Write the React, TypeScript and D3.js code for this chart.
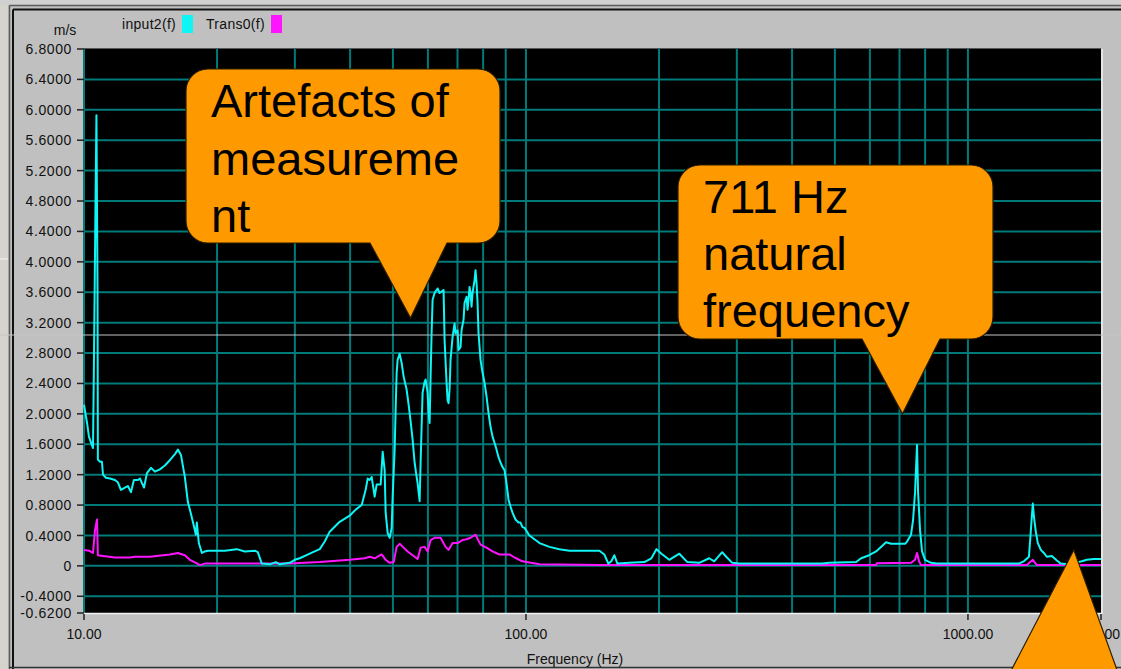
import React from "react";
import * as d3 from "d3";

const WIDTH = 1121;
const HEIGHT = 669;

// Amplitude spectra, [frequency in Hz, velocity in m/s]
const input2: [number, number][] = [
  [10.0, 2.12], [10.16, 1.88], [10.26, 1.7], [10.48, 1.55], [10.53, 2.64], [10.62, 4.82], [10.67, 5.93],
  [10.73, 3.63], [10.75, 1.4], [10.87, 1.37], [10.98, 1.37], [11.04, 1.2], [11.21, 1.16], [11.45, 1.15],
  [11.75, 1.13], [11.93, 1.1], [12.12, 1.0], [12.38, 1.03], [12.57, 1.05], [12.77, 0.97], [12.97, 1.13],
  [13.25, 1.13], [13.38, 1.15], [13.67, 1.03], [13.88, 1.22], [14.17, 1.29], [14.47, 1.24], [14.85, 1.27],
  [15.24, 1.32], [15.64, 1.39], [16.06, 1.47], [16.31, 1.53], [16.57, 1.46], [16.91, 1.17], [17.18, 0.84],
  [17.45, 0.69], [17.73, 0.52], [17.91, 0.41], [18.0, 0.57], [18.19, 0.3], [18.48, 0.17], [18.77, 0.19],
  [19.07, 0.2], [19.77, 0.2], [20.83, 0.2], [22.17, 0.22], [23.11, 0.19], [24.34, 0.2], [24.73, 0.18],
  [25.25, 0.03], [26.32, 0.02], [27.16, 0.05], [27.73, 0.02], [29.21, 0.04], [29.98, 0.08], [30.77, 0.1],
  [32.41, 0.16], [34.15, 0.22], [35.05, 0.32], [35.97, 0.45], [37.89, 0.58], [39.91, 0.66], [41.18, 0.74],
  [42.49, 0.8], [43.38, 1.0], [43.84, 1.15], [44.29, 1.13], [44.76, 1.17], [45.46, 0.91], [45.94, 1.07],
  [46.91, 1.07], [47.4, 1.5], [47.89, 1.26], [48.14, 0.7], [48.65, 0.43], [49.16, 0.37], [49.67, 0.5],
  [49.93, 0.91], [50.45, 1.53], [50.71, 2.05], [50.98, 2.54], [51.24, 2.71], [51.78, 2.79], [52.32, 2.67],
  [52.87, 2.49], [53.7, 2.32], [54.26, 2.12], [54.83, 1.9], [55.4, 1.66], [55.98, 1.36], [56.57, 1.17],
  [56.86, 1.09], [57.46, 0.85], [57.76, 1.36], [58.06, 1.83], [58.36, 2.28], [58.97, 2.42], [59.28, 2.45],
  [59.9, 2.28], [60.21, 2.01], [60.53, 1.88], [60.84, 2.49], [61.16, 3.06], [61.48, 3.5], [62.12, 3.59],
  [62.77, 3.63], [63.1, 3.65], [63.76, 3.59], [64.42, 3.61], [65.1, 3.63], [65.44, 2.97], [66.12, 2.41],
  [66.47, 2.18], [66.81, 2.14], [67.16, 2.32], [67.51, 2.71], [68.22, 3.01], [68.93, 3.19], [69.29, 3.06],
  [70.02, 3.1], [70.38, 2.84], [71.12, 2.88], [71.49, 3.1], [72.24, 3.24], [72.62, 3.46], [73.38, 3.54],
  [73.76, 3.37], [74.14, 3.5], [74.53, 3.67], [74.92, 3.59], [75.31, 3.41], [75.7, 3.59], [76.5, 3.76],
  [76.89, 3.89], [77.3, 3.72], [77.7, 3.46], [78.1, 3.06], [78.92, 2.71], [79.75, 2.54], [80.58, 2.41],
  [81.42, 2.23], [82.28, 2.01], [83.14, 1.83], [84.01, 1.7], [84.88, 1.62], [85.77, 1.53], [86.67, 1.43],
  [87.57, 1.36], [88.49, 1.3], [89.42, 1.26], [90.35, 1.09], [91.3, 0.87], [92.25, 0.78], [93.22, 0.7],
  [94.69, 0.61], [96.18, 0.57], [97.18, 0.57], [98.2, 0.51], [99.22, 0.5], [100.3, 0.46], [101.8, 0.4],
  [107.3, 0.3], [113.0, 0.25], [119.0, 0.22], [125.4, 0.2], [132.1, 0.2], [146.6, 0.2], [150.4, 0.15],
  [153.6, 0.03], [156.0, 0.06], [158.5, 0.14], [161.0, 0.03], [171.4, 0.04], [185.3, 0.05], [192.2, 0.1],
  [197.3, 0.22], [202.5, 0.16], [211.0, 0.08], [222.3, 0.16], [231.8, 0.05], [246.6, 0.04], [259.8, 0.1],
  [266.6, 0.06], [277.9, 0.18], [283.8, 0.12], [292.9, 0.04], [303.7, 0.03], [467.8, 0.03], [485.1, 0.04],
  [558.5, 0.05], [573.2, 0.1], [597.6, 0.14], [619.7, 0.19], [652.8, 0.31], [670.0, 0.29], [720.5, 0.29],
  [728.1, 0.32], [743.4, 0.41], [751.2, 0.6], [759.0, 0.96], [763.0, 1.29], [767.0, 1.59], [771.0, 0.98],
  [779.1, 0.47], [787.2, 0.19], [799.6, 0.08], [824.9, 0.04], [851.1, 0.03], [1304, 0.03], [1338, 0.06],
  [1374, 0.12], [1388, 0.47], [1395, 0.65], [1402, 0.82], [1410, 0.65], [1424, 0.45], [1439, 0.3],
  [1462, 0.21], [1485, 0.17], [1508, 0.12], [1548, 0.13], [1589, 0.07], [1622, 0.03], [1691, 0.02],
  [1810, 0.06], [1857, 0.08], [1926, 0.09], [2000, 0.09],
];

const trans0: [number, number][] = [
  [10.0, 0.21], [10.26, 0.2], [10.48, 0.17], [10.59, 0.47], [10.7, 0.61], [10.75, 0.14], [11.04, 0.13],
  [11.75, 0.11], [12.7, 0.11], [13.04, 0.12], [14.1, 0.12], [15.64, 0.15], [16.31, 0.17], [16.91, 0.14],
  [17.36, 0.08], [17.91, 0.04], [18.29, 0.01], [18.77, 0.03], [29.21, 0.03], [34.15, 0.05], [39.91, 0.08],
  [43.16, 0.1], [44.29, 0.12], [45.46, 0.1], [47.15, 0.15], [48.14, 0.08], [49.16, 0.04], [50.19, 0.05],
  [50.98, 0.25], [51.78, 0.29], [52.87, 0.24], [53.98, 0.19], [55.12, 0.15], [56.86, 0.09], [57.76, 0.24],
  [58.97, 0.25], [59.9, 0.19], [60.84, 0.34], [62.12, 0.37], [64.09, 0.37], [65.78, 0.25], [66.81, 0.21],
  [68.22, 0.3], [70.02, 0.3], [71.86, 0.34], [73.38, 0.35], [74.92, 0.37], [76.89, 0.41], [78.92, 0.28],
  [81.42, 0.24], [84.01, 0.19], [87.12, 0.15], [91.77, 0.15], [94.19, 0.11], [98.2, 0.06], [100.3, 0.05],
  [107.3, 0.02], [146.6, 0.01], [619.7, 0.01], [622.0, 0.035], [743.4, 0.04], [759.0, 0.08], [767.0, 0.17],
  [775.0, 0.06], [783.1, 0.01], [1359, 0.01], [1402, 0.08], [1432, 0.01], [2000, 0.01],
];

const seriesNames = ["input2(f)", "Trans0(f)"];
const seriesColors = ["#0ff4f4", "#ff14ff"];

const yTicks = [6.8, 6.4, 6.0, 5.6, 5.2, 4.8, 4.4, 4.0, 3.6, 3.2, 2.8, 2.4, 2.0, 1.6, 1.2, 0.8, 0.4, 0, -0.4, -0.62];
const xTickLabels = [10, 100, 1000, 2000];
const xGrid = [10, 20, 30, 40, 50, 60, 70, 80, 90, 100, 200, 300, 400, 500, 600, 700, 800, 900, 1000];

const yUnit = "m/s";
const xTitle = "Frequency (Hz)";

// Callout notes: tip anchored in data units (Hz, m/s)
const noteArtefacts = ["Artefacts of", "measureme", "nt"];
const noteNatural = ["711 Hz", "natural", "frequency"];
const noteArtefactsTip: [number, number] = [54.8, 3.26];
const noteNaturalTip: [number, number] = [711, 2.0];
const noteCornerTip: [number, number] = [1736, 0.21];

const PLOT = { left: 84, right: 1101, top: 49, bottom: 613 };
const GRID = "#017a7a";
const AXIS_FONT = "'Liberation Sans', Arial, sans-serif";

function calloutPath(
  x0: number, y0: number, x1: number, y1: number, r: number,
  baseL: number, baseR: number, tipX: number, tipY: number
) {
  return [
    `M${x0 + r},${y0}`,
    `H${x1 - r}`,
    `A${r},${r} 0 0 1 ${x1},${y0 + r}`,
    `V${y1 - r}`,
    `A${r},${r} 0 0 1 ${x1 - r},${y1}`,
    `H${baseR}`,
    `L${tipX},${tipY}`,
    `L${baseL},${y1}`,
    `H${x0 + r}`,
    `A${r},${r} 0 0 1 ${x0},${y1 - r}`,
    `V${y0 + r}`,
    `A${r},${r} 0 0 1 ${x0 + r},${y0}`,
    "Z",
  ].join(" ");
}

export default function App() {
  const x = d3.scaleLog().domain([10, 2000]).range([PLOT.left, PLOT.right]);
  const y = d3.scaleLinear().domain([-0.62, 6.8]).range([PLOT.bottom, PLOT.top]);

  const line = d3
    .line<[number, number]>()
    .x((d) => x(d[0]))
    .y((d) => y(d[1]));

  const fmtY = (v: number) => (v === 0 ? "0" : v.toFixed(4));
  const fmtX = (v: number) => v.toFixed(2);
  const lastX = xTickLabels[xTickLabels.length - 1];

  const tip1 = [x(noteArtefactsTip[0]), y(noteArtefactsTip[1])];
  const tip2 = [x(noteNaturalTip[0]), y(noteNaturalTip[1])];
  const tip3 = [x(noteCornerTip[0]), y(noteCornerTip[1])];

  return (
    <div style={{ position: "absolute", left: 0, top: 0 }}>
      <svg width={WIDTH} height={HEIGHT} style={{ display: "block" }}>
        {/* window frame */}
        <rect x={0} y={0} width={WIDTH} height={HEIGHT} fill="#c0c0c0" />
        <rect x={0} y={0} width={8} height={HEIGHT} fill="#d6d3ce" />
        <rect x={0} y={0} width={WIDTH} height={5} fill="#d0d0d0" />
        <line x1={9.5} y1={5.5} x2={WIDTH} y2={5.5} stroke="#5a5a5a" strokeWidth={1.5} />
        <line x1={9.5} y1={5.5} x2={9.5} y2={HEIGHT} stroke="#5a5a5a" strokeWidth={1.5} />
        <line x1={13} y1={9.5} x2={WIDTH} y2={9.5} stroke="#111" strokeWidth={2} />
        <line x1={13} y1={9.5} x2={13} y2={HEIGHT} stroke="#111" strokeWidth={2} />
        <line x1={9} y1={667.5} x2={WIDTH} y2={667.5} stroke="#333" strokeWidth={1.5} />
        <line x1={0} y1={259} x2={8} y2={259} stroke="#f4f4f4" strokeWidth={1} />

        {/* legend */}
        <g fontFamily={AXIS_FONT} fontSize={14} fill="#111">
          <text x={65} y={35} textAnchor="middle">{yUnit}</text>
          <text x={122} y={29} letterSpacing={0.3}>{seriesNames[0]}</text>
          <rect x={182} y={15} width={11} height={18} fill={seriesColors[0]} />
          <text x={206} y={29} letterSpacing={0.3}>{seriesNames[1]}</text>
          <rect x={271} y={15} width={11} height={18} fill={seriesColors[1]} />
        </g>

        {/* plot area */}
        <rect x={PLOT.left} y={PLOT.top} width={PLOT.right - PLOT.left} height={PLOT.bottom - PLOT.top} fill="#000" />
        <g stroke={GRID} strokeWidth={2}>
          {yTicks
            .filter((t) => t !== 6.8 && t !== -0.62)
            .map((t) => (
              <line key={`h${t}`} x1={PLOT.left} x2={PLOT.right} y1={y(t)} y2={y(t)} />
            ))}
          {xGrid.map((f) => (
            <line key={`v${f}`} x1={x(f)} x2={x(f)} y1={PLOT.top} y2={PLOT.bottom} />
          ))}
        </g>
        <line x1={PLOT.left} y1={PLOT.top - 0.5} x2={PLOT.right} y2={PLOT.top - 0.5} stroke="#555" strokeWidth={1} />
        <line x1={PLOT.left} y1={PLOT.bottom + 0.5} x2={PLOT.right + 1} y2={PLOT.bottom + 0.5} stroke="#f2f2f2" strokeWidth={1.5} />
        <line x1={PLOT.right + 1} y1={PLOT.top} x2={PLOT.right + 1} y2={PLOT.bottom + 1} stroke="#f2f2f2" strokeWidth={1.5} />

        <line x1={0} y1={335} x2={WIDTH} y2={335} stroke="#c4c4c4" strokeWidth={1} />

        {/* spectra */}
        <path d={line(trans0) ?? ""} fill="none" stroke={seriesColors[1]} strokeWidth={2} strokeLinejoin="round" />
        <path d={line(input2) ?? ""} fill="none" stroke={seriesColors[0]} strokeWidth={2} strokeLinejoin="round" />

        {/* y axis */}
        <g fontFamily={AXIS_FONT} fontSize={14} fill="#111" letterSpacing={0.6}>
          {yTicks.map((t) => (
            <g key={`yt${t}`}>
              <line x1={77} x2={84} y1={y(t)} y2={y(t)} stroke="#222" strokeWidth={1.5} />
              <text x={72} y={y(t)} dy="0.36em" textAnchor="end">{fmtY(t)}</text>
            </g>
          ))}
        </g>

        {/* x axis */}
        <g fontFamily={AXIS_FONT} fontSize={14} fill="#111">
          {xTickLabels.map((f) => (
            <g key={`xt${f}`}>
              <line x1={x(f)} x2={x(f)} y1={PLOT.bottom + 1} y2={PLOT.bottom + 7} stroke="#222" strokeWidth={1.5} />
              {f === lastX ? (
                <text x={WIDTH - 1} y={639} textAnchor="end">{fmtX(f)}</text>
              ) : (
                <text x={x(f)} y={639} textAnchor="middle">{fmtX(f)}</text>
              )}
            </g>
          ))}
          <text x={575} y={664} textAnchor="middle">{xTitle}</text>
        </g>

        {/* callouts */}
        <g fill="#ff9900" stroke="#2a1c00" strokeWidth={1.2}>
          <path d={calloutPath(186, 69, 500, 243, 22, 370, 447, tip1[0], tip1[1])} />
          <path d={calloutPath(678, 165, 993, 339, 22, 862, 940, tip2[0], tip2[1])} />
          <path d={`M${tip3[0]},${tip3[1]} L${tip3[0] + 54},${HEIGHT + 31} L${tip3[0] - 78},${HEIGHT + 31} Z`} />
        </g>
        <g fontFamily={AXIS_FONT} fontSize={47} fill="#000">
          {noteArtefacts.map((s, i) => (
            <text key={`a${i}`} x={211} y={117 + i * 57.5}>{s}</text>
          ))}
          {noteNatural.map((s, i) => (
            <text key={`n${i}`} x={703} y={213 + i * 57}>{s}</text>
          ))}
        </g>
      </svg>
    </div>
  );
}
